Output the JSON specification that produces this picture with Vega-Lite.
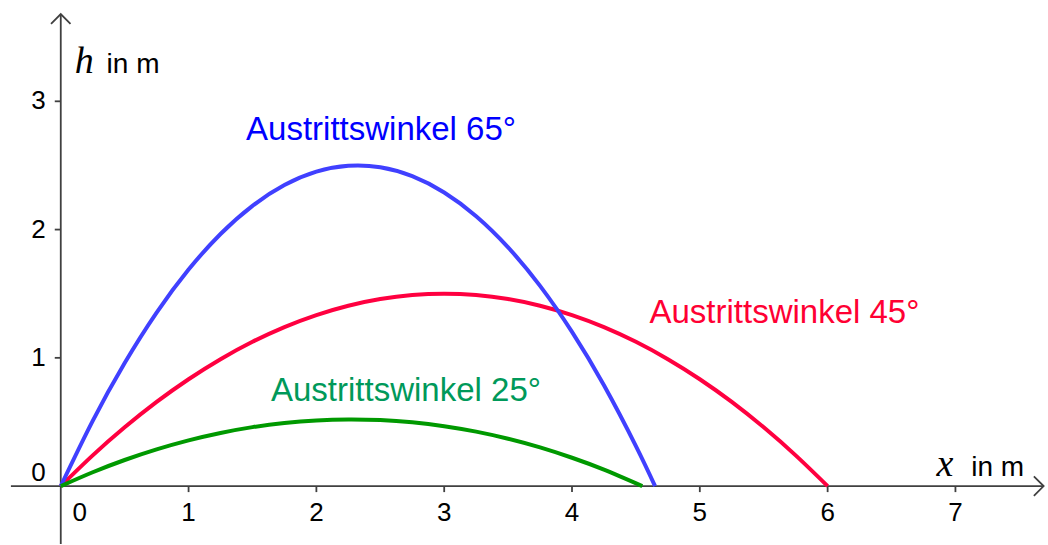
{
  "$schema": "https://vega.github.io/schema/vega-lite/v6.json",
  "width": 1048,
  "height": 545,
  "autosize": {"type": "fit", "contains": "padding"},
  "padding": 0,
  "background": "white",
  "config": {"view": {"stroke": null}, "text": {"font": "Liberation Sans"}},
  "datasets": {
    "curves": [
      {"s": "45", "x": 0, "h": 0}, {"s": "45", "x": 0.25, "h": 0.2396}, {"s": "45", "x": 0.5, "h": 0.4583}, {"s": "45", "x": 0.75, "h": 0.6563},
      {"s": "45", "x": 1, "h": 0.8333}, {"s": "45", "x": 1.25, "h": 0.9896}, {"s": "45", "x": 1.5, "h": 1.125}, {"s": "45", "x": 1.75, "h": 1.2396},
      {"s": "45", "x": 2, "h": 1.3333}, {"s": "45", "x": 2.25, "h": 1.4063}, {"s": "45", "x": 2.5, "h": 1.4583}, {"s": "45", "x": 2.75, "h": 1.4896},
      {"s": "45", "x": 3, "h": 1.5}, {"s": "45", "x": 3.25, "h": 1.4896}, {"s": "45", "x": 3.5, "h": 1.4583}, {"s": "45", "x": 3.75, "h": 1.4063},
      {"s": "45", "x": 4, "h": 1.3333}, {"s": "45", "x": 4.25, "h": 1.2396}, {"s": "45", "x": 4.5, "h": 1.125}, {"s": "45", "x": 4.75, "h": 0.9896},
      {"s": "45", "x": 5, "h": 0.8333}, {"s": "45", "x": 5.25, "h": 0.6563}, {"s": "45", "x": 5.5, "h": 0.4583}, {"s": "45", "x": 5.75, "h": 0.2396},
      {"s": "45", "x": 6, "h": 0},
      {"s": "65", "x": 0, "h": 0}, {"s": "65", "x": 0.25, "h": 0.5087}, {"s": "65", "x": 0.5, "h": 0.9597}, {"s": "65", "x": 0.75, "h": 1.3528},
      {"s": "65", "x": 1, "h": 1.6881}, {"s": "65", "x": 1.25, "h": 1.9656}, {"s": "65", "x": 1.5, "h": 2.1853}, {"s": "65", "x": 1.75, "h": 2.3471},
      {"s": "65", "x": 2, "h": 2.4512}, {"s": "65", "x": 2.25, "h": 2.4974}, {"s": "65", "x": 2.5, "h": 2.4859}, {"s": "65", "x": 2.75, "h": 2.4165},
      {"s": "65", "x": 3, "h": 2.2893}, {"s": "65", "x": 3.25, "h": 2.1043}, {"s": "65", "x": 3.5, "h": 1.8615}, {"s": "65", "x": 3.75, "h": 1.5609},
      {"s": "65", "x": 4, "h": 1.2025}, {"s": "65", "x": 4.25, "h": 0.7862}, {"s": "65", "x": 4.5, "h": 0.3122}, {"s": "65", "x": 4.65, "h": 0},
      {"s": "25", "x": 0, "h": 0}, {"s": "25", "x": 0.25, "h": 0.108}, {"s": "25", "x": 0.5, "h": 0.2035}, {"s": "25", "x": 0.75, "h": 0.2863},
      {"s": "25", "x": 1, "h": 0.3567}, {"s": "25", "x": 1.25, "h": 0.4144}, {"s": "25", "x": 1.5, "h": 0.4597}, {"s": "25", "x": 1.75, "h": 0.4923},
      {"s": "25", "x": 2, "h": 0.5124}, {"s": "25", "x": 2.25, "h": 0.5199}, {"s": "25", "x": 2.5, "h": 0.5149}, {"s": "25", "x": 2.75, "h": 0.4973},
      {"s": "25", "x": 3, "h": 0.4672}, {"s": "25", "x": 3.25, "h": 0.4245}, {"s": "25", "x": 3.5, "h": 0.3692}, {"s": "25", "x": 3.75, "h": 0.3014},
      {"s": "25", "x": 4, "h": 0.221}, {"s": "25", "x": 4.25, "h": 0.1281}, {"s": "25", "x": 4.55, "h": 0}
    ],
    "xt": [{"v": 1}, {"v": 2}, {"v": 3}, {"v": 4}, {"v": 5}, {"v": 6}, {"v": 7}],
    "yt": [{"v": 1}, {"v": 2}, {"v": 3}],
    "one": [{"k": 1}]
  },
  "layer": [
    {
      "data": {"name": "one"},
      "mark": {"type": "rule", "color": "#404040", "strokeWidth": 1.8},
      "encoding": {
        "x": {"datum": -0.39, "type": "quantitative", "scale": {"domain": [-0.4754, 7.6929], "nice": false, "zero": false}, "axis": null},
        "x2": {"datum": 7.6929},
        "y": {"datum": 0, "type": "quantitative", "scale": {"domain": [-0.4514, 3.7899], "nice": false, "zero": false}, "axis": null}
      }
    },
    {
      "data": {"name": "one"},
      "mark": {"type": "rule", "color": "#404040", "strokeWidth": 1.8},
      "encoding": {
        "x": {"datum": 0, "type": "quantitative"},
        "y": {"datum": -0.4514, "type": "quantitative"},
        "y2": {"datum": 3.68}
      }
    },
    {
      "data": {"name": "one"},
      "mark": {"type": "point", "shape": "M -1 1 L 0 0 L 1 1", "size": 380, "filled": false, "stroke": "#404040", "strokeWidth": 1.8, "opacity": 1},
      "encoding": {
        "x": {"datum": 0, "type": "quantitative"},
        "y": {"datum": 3.68, "type": "quantitative"}
      }
    },
    {
      "data": {"name": "one"},
      "mark": {"type": "point", "shape": "M -1 -1 L 0 0 L -1 1", "size": 380, "filled": false, "stroke": "#404040", "strokeWidth": 1.8, "opacity": 1},
      "encoding": {
        "x": {"datum": 7.69, "type": "quantitative"},
        "y": {"datum": 0, "type": "quantitative"}
      }
    },
    {
      "data": {"name": "xt"},
      "mark": {"type": "rule", "color": "#404040", "strokeWidth": 1.8, "y2Offset": 6},
      "encoding": {
        "x": {"field": "v", "type": "quantitative"},
        "y": {"datum": 0, "type": "quantitative"},
        "y2": {"datum": 0}
      }
    },
    {
      "data": {"name": "yt"},
      "mark": {"type": "rule", "color": "#404040", "strokeWidth": 1.8, "x2Offset": -6},
      "encoding": {
        "y": {"field": "v", "type": "quantitative"},
        "x": {"datum": 0, "type": "quantitative"},
        "x2": {"datum": 0}
      }
    },
    {
      "data": {"name": "xt"},
      "mark": {"type": "text", "fontSize": 26, "color": "#000000", "align": "center", "baseline": "alphabetic", "dy": 35},
      "encoding": {
        "x": {"field": "v", "type": "quantitative"},
        "y": {"datum": 0, "type": "quantitative"},
        "text": {"field": "v", "type": "quantitative"}
      }
    },
    {
      "data": {"name": "one"},
      "mark": {"type": "text", "fontSize": 26, "color": "#000000", "align": "center", "baseline": "alphabetic", "dy": 35, "dx": 19, "text": "0"},
      "encoding": {
        "x": {"datum": 0, "type": "quantitative"},
        "y": {"datum": 0, "type": "quantitative"}
      }
    },
    {
      "data": {"name": "yt"},
      "mark": {"type": "text", "fontSize": 26, "color": "#000000", "align": "right", "baseline": "middle", "dx": -15},
      "encoding": {
        "y": {"field": "v", "type": "quantitative"},
        "x": {"datum": 0, "type": "quantitative"},
        "text": {"field": "v", "type": "quantitative"}
      }
    },
    {
      "data": {"name": "one"},
      "mark": {"type": "text", "fontSize": 26, "color": "#000000", "align": "right", "baseline": "alphabetic", "dx": -15, "dy": -5, "text": "0"},
      "encoding": {
        "x": {"datum": 0, "type": "quantitative"},
        "y": {"datum": 0, "type": "quantitative"}
      }
    },
    {
      "data": {"name": "curves"},
      "transform": [{"filter": "datum.s == '45'"}],
      "mark": {"type": "line", "color": "#ff0040", "strokeWidth": 4, "interpolate": "natural"},
      "encoding": {
        "x": {"field": "x", "type": "quantitative"},
        "y": {"field": "h", "type": "quantitative"},
        "order": {"field": "x", "type": "quantitative"}
      }
    },
    {
      "data": {"name": "curves"},
      "transform": [{"filter": "datum.s == '65'"}],
      "mark": {"type": "line", "color": "#4040ff", "strokeWidth": 4, "interpolate": "natural"},
      "encoding": {
        "x": {"field": "x", "type": "quantitative"},
        "y": {"field": "h", "type": "quantitative"},
        "order": {"field": "x", "type": "quantitative"}
      }
    },
    {
      "data": {"name": "curves"},
      "transform": [{"filter": "datum.s == '25'"}],
      "mark": {"type": "line", "color": "#009900", "strokeWidth": 4, "interpolate": "natural"},
      "encoding": {
        "x": {"field": "x", "type": "quantitative"},
        "y": {"field": "h", "type": "quantitative"},
        "order": {"field": "x", "type": "quantitative"}
      }
    },
    {
      "data": {"name": "one"},
      "mark": {"type": "text", "fontSize": 33, "color": "#0000ff", "align": "left", "baseline": "alphabetic", "text": "Austrittswinkel 65°"},
      "encoding": {
        "x": {"datum": 1.4497, "type": "quantitative"},
        "y": {"datum": 2.695, "type": "quantitative"}
      }
    },
    {
      "data": {"name": "one"},
      "mark": {"type": "text", "fontSize": 33, "color": "#ff0033", "align": "left", "baseline": "alphabetic", "text": "Austrittswinkel 45°"},
      "encoding": {
        "x": {"datum": 4.606, "type": "quantitative"},
        "y": {"datum": 1.274, "type": "quantitative"}
      }
    },
    {
      "data": {"name": "one"},
      "mark": {"type": "text", "fontSize": 33, "color": "#00995a", "align": "left", "baseline": "alphabetic", "text": "Austrittswinkel 25°"},
      "encoding": {
        "x": {"datum": 1.645, "type": "quantitative"},
        "y": {"datum": 0.664, "type": "quantitative"}
      }
    },
    {
      "data": {"name": "one"},
      "mark": {"type": "text", "font": "Liberation Serif", "fontStyle": "italic", "fontSize": 38, "color": "#000000", "align": "left", "baseline": "alphabetic", "text": "h"},
      "encoding": {
        "x": {"datum": 0.109, "type": "quantitative"},
        "y": {"datum": 3.222, "type": "quantitative"}
      }
    },
    {
      "data": {"name": "one"},
      "mark": {"type": "text", "fontSize": 28, "color": "#000000", "align": "left", "baseline": "alphabetic", "text": "in m"},
      "encoding": {
        "x": {"datum": 0.3585, "type": "quantitative"},
        "y": {"datum": 3.222, "type": "quantitative"}
      }
    },
    {
      "data": {"name": "one"},
      "mark": {"type": "text", "font": "Liberation Serif", "fontStyle": "italic", "fontSize": 38, "color": "#000000", "align": "left", "baseline": "alphabetic", "text": "x"},
      "encoding": {
        "x": {"datum": 6.851, "type": "quantitative"},
        "y": {"datum": 0.0778, "type": "quantitative"}
      }
    },
    {
      "data": {"name": "one"},
      "mark": {"type": "text", "fontSize": 28, "color": "#000000", "align": "left", "baseline": "alphabetic", "text": "in m"},
      "encoding": {
        "x": {"datum": 7.124, "type": "quantitative"},
        "y": {"datum": 0.0778, "type": "quantitative"}
      }
    }
  ]
}
